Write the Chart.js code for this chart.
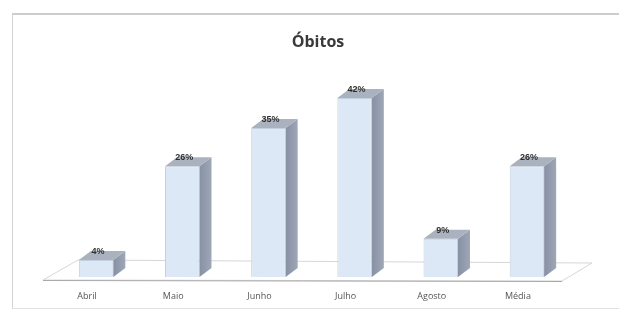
<!DOCTYPE html>
<html>
<head>
<meta charset="utf-8">
<script src="https://cdn.jsdelivr.net/npm/chart.js@4/dist/chart.umd.min.js"></script>
<style>
  html, body { margin: 0; padding: 0; background: #ffffff; }
  #wrap { position: relative; width: 619px; height: 311px; }
  #frame { position: absolute; left: 12px; top: 13px; width: 620px; height: 293px;
           border-left: 1px solid #d4d4d4; border-top: 2px solid #cccccc; border-bottom: 1px solid #e2e2e2; }
  canvas { position: absolute; left: 0; top: 0; }
</style>
</head>
<body>
<div id="wrap">
  <div id="frame"></div>
  <canvas id="chart" width="619" height="311"></canvas>
</div>
<script>
// --- Datos ---
const titulo = 'Óbitos';
const categorias = ['Abril', 'Maio', 'Junho', 'Julho', 'Agosto', 'Média'];
const obitos = [4, 26, 35, 42, 9, 26];
const etiquetas = ['4%', '26%', '35%', '42%', '9%', '26%'];

// profundidad 3D
const DX = 12;
const DY = 9;

// --- Título ---
const tituloPlugin = {
  id: 'titulo',
  afterDraw(chart) {
    const { ctx } = chart;
    ctx.save();
    ctx.fillStyle = '#3a3a3a';
    ctx.font = 'bold 16px "Open Sans", sans-serif';
    ctx.textAlign = 'center';
    ctx.textBaseline = 'alphabetic';
    ctx.fillText(titulo, 318, 47);
    ctx.restore();
  }
};

// --- Piso en perspectiva ---
const pisoPlugin = {
  id: 'piso',
  beforeDatasetsDraw(chart) {
    const { ctx, chartArea, scales } = chart;
    const base = scales.y.getPixelForValue(0) + 3;
    const x0 = chartArea.left - 10;
    const x1 = chartArea.right - 8;
    ctx.save();
    ctx.beginPath();
    ctx.moveTo(x0, base);
    ctx.lineTo(x0 + 35, base - 20);
    ctx.lineTo(x1 + 30, base - 17);
    ctx.lineTo(x1, base + 1);
    ctx.closePath();
    ctx.fillStyle = '#ffffff';
    ctx.fill();
    ctx.strokeStyle = '#d6d6d6';
    ctx.lineWidth = 1;
    ctx.stroke();
    ctx.beginPath();
    ctx.moveTo(x0, base + 0.5);
    ctx.lineTo(x1, base + 1.5);
    ctx.strokeStyle = '#a9a9a9';
    ctx.stroke();
    ctx.restore();
  }
};

// --- Caras laterales, tapas y etiquetas ---
const barras3D = {
  id: 'barras3D',
  afterDatasetsDraw(chart) {
    const { ctx } = chart;
    const meta = chart.getDatasetMeta(0);
    ctx.save();
    meta.data.forEach((bar, i) => {
      const left = bar.x - bar.width / 2;
      const right = bar.x + bar.width / 2;
      const top = bar.y;
      const bottom = bar.base;

      // lado derecho
      ctx.beginPath();
      ctx.moveTo(right, top);
      ctx.lineTo(right + DX, top - DY);
      ctx.lineTo(right + DX, bottom - DY);
      ctx.lineTo(right, bottom);
      ctx.closePath();
      const g = ctx.createLinearGradient(right, 0, right + DX, 0);
      g.addColorStop(0, '#8791a4');
      g.addColorStop(1, '#9ea7b7');
      ctx.fillStyle = g;
      ctx.fill();

      // tapa
      ctx.beginPath();
      ctx.moveTo(left, top);
      ctx.lineTo(left + DX, top - DY);
      ctx.lineTo(right + DX, top - DY);
      ctx.lineTo(right, top);
      ctx.closePath();
      ctx.fillStyle = '#aab2c0';
      ctx.fill();

      // etiqueta
      ctx.fillStyle = '#2e2e2e';
      ctx.font = 'bold 9px "Liberation Sans", sans-serif';
      ctx.textAlign = 'center';
      ctx.textBaseline = 'bottom';
      ctx.fillText(etiquetas[i], bar.x + 2, top - DY + 5);
    });
    ctx.restore();
  }
};

// --- Etiquetas del eje x (desplazadas por la perspectiva) ---
const ejeX = {
  id: 'ejeX',
  afterDraw(chart) {
    const { ctx, scales } = chart;
    ctx.save();
    ctx.fillStyle = '#555555';
    ctx.font = '9px "Open Sans", sans-serif';
    ctx.textAlign = 'center';
    ctx.textBaseline = 'middle';
    categorias.forEach((c, i) => {
      ctx.fillText(c, scales.x.getPixelForValue(i) - 9, 296);
    });
    ctx.restore();
  }
};

const ctx = document.getElementById('chart').getContext('2d');
new Chart(ctx, {
  type: 'bar',
  data: {
    labels: categorias,
    datasets: [{
      label: titulo,
      data: obitos,
      backgroundColor: '#dce8f5',
      borderColor: '#c3d0df',
      borderWidth: 1,
      barPercentage: 0.8,
      categoryPercentage: 0.5
    }]
  },
  options: {
    responsive: false,
    animation: false,
    layout: { padding: { left: 53, right: 49, top: 64, bottom: 0 } },
    plugins: {
      legend: { display: false },
      tooltip: { enabled: false },
      title: { display: false }
    },
    scales: {
      y: { display: false, min: 0, max: 50 },
      x: {
        grid: { display: false },
        border: { display: false },
        ticks: { display: false },
        afterFit(s) { s.height = 34; }
      }
    }
  },
  plugins: [pisoPlugin, barras3D, ejeX, tituloPlugin]
});
</script>
</body>
</html>
